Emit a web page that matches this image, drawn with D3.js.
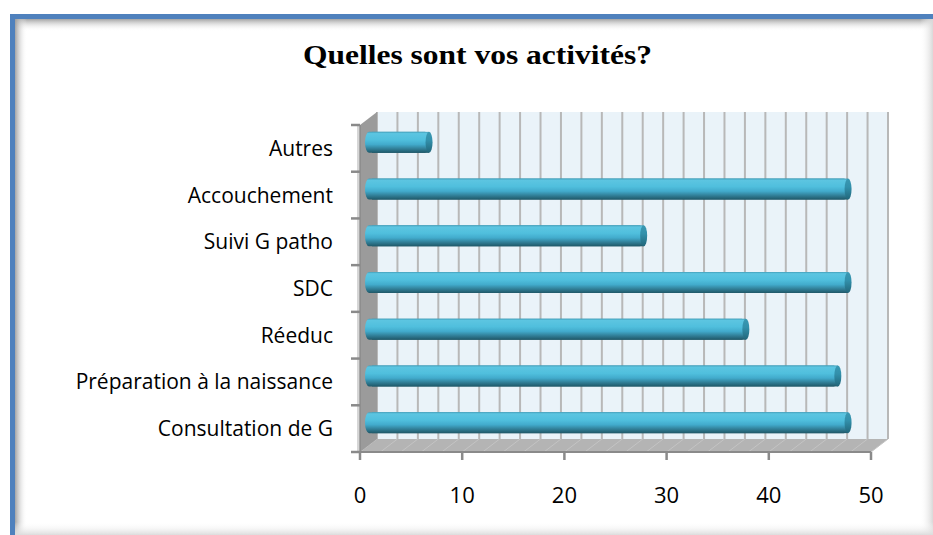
<!DOCTYPE html>
<html><head><meta charset="utf-8">
<script src="https://cdn.jsdelivr.net/npm/d3@7"></script>
<style>html,body{margin:0;padding:0;background:#fff;}svg{display:block;}</style>
</head><body>
<svg id="c" width="933" height="535"></svg>
<script>
const title = "Quelles sont vos activités?";
const categories = ["Autres","Accouchement","Suivi G patho","SDC","Réeduc","Préparation à la naissance","Consultation de G"];
const values = [7,48,28,48,38,47,48];
const xTicks = [0,10,20,30,40,50];

(function(){
const svg = d3.select("#c");
const W = 933, H = 535;
const defs = svg.append("defs");

function lg(id, x1,y1,x2,y2, stops){
  const g = defs.append("linearGradient").attr("id",id).attr("x1",x1).attr("y1",y1).attr("x2",x2).attr("y2",y2);
  stops.forEach(s=>g.append("stop").attr("offset",s[0]).attr("stop-color",s[1]).attr("stop-opacity",s[2]===undefined?1:s[2]));
}
lg("shTop",0,0,0,1,[[0,"#9a9a9a",0.9],[1,"#ffffff",0]]);
lg("shLeft",0,0,1,0,[[0,"#9a9a9a",0.9],[1,"#ffffff",0]]);
lg("shRight",0,0,1,0,[[0,"#ffffff",0],[1,"#d8d8d8",1]]);
lg("shBot",0,0,0,1,[[0,"#ffffff",0],[1,"#dcdcdc",1]]);
lg("cyl",0,0,0,1,[[0,"#449fba"],[0.08,"#5cc5e1"],[0.38,"#50bfdd"],[0.6,"#42abcc"],[0.82,"#307c94"],[1,"#1f5868"]]);
lg("cap",0,0,0,1,[[0,"#3a98b2"],[0.4,"#3290ab"],[1,"#21667a"]]);

// frame
svg.append("rect").attr("x",15).attr("y",19).attr("width",W-15).attr("height",12).attr("fill","url(#shTop)");
svg.append("rect").attr("x",15).attr("y",19).attr("width",12).attr("height",H-19).attr("fill","url(#shLeft)");
svg.append("rect").attr("x",920).attr("y",19).attr("width",13).attr("height",H-19).attr("fill","url(#shRight)");
svg.append("rect").attr("x",15).attr("y",522).attr("width",W-15).attr("height",13).attr("fill","url(#shBot)");
svg.append("rect").attr("x",10).attr("y",14).attr("width",W-10).attr("height",5).attr("fill","#4f81bd");
svg.append("rect").attr("x",10).attr("y",14).attr("width",5).attr("height",H-14).attr("fill","#4f81bd");

// title
svg.append("text").attr("x",477.5).attr("y",64).attr("text-anchor","middle")
  .attr("font-family","'Liberation Serif','DejaVu Serif',serif").attr("font-weight","bold")
  .attr("font-size",28).attr("textLength",349).attr("lengthAdjust","spacingAndGlyphs")
  .attr("fill","#000").text(title);

// scales
const x = d3.scaleLinear().domain([0,50]).range([360,871]);
const y = d3.scaleBand().domain(categories).range([125,452]);
const dx = 17, dy = -13;
const y0 = y.range()[0], y1 = y.range()[1];

// back wall
svg.append("rect").attr("x",x(0)+dx).attr("y",y0+dy).attr("width",x(50)-x(0)).attr("height",y1-y0)
  .attr("fill","#eaf3f9");
const grid = d3.range(0,51,2);
svg.append("g").selectAll("line").data(grid).join("line")
  .attr("x1",d=>x(d)+dx).attr("x2",d=>x(d)+dx).attr("y1",y0+dy).attr("y2",y1+dy)
  .attr("stroke","#b8b8b8").attr("stroke-width",2);
// floor
svg.append("path").attr("d",`M${x(0)},${y1}L${x(50)},${y1}L${x(50)+dx},${y1+dy}L${x(0)+dx},${y1+dy}Z`)
  .attr("fill","#b4b4b4");
svg.append("g").selectAll("line").data(grid).join("line")
  .attr("x1",d=>x(d)).attr("x2",d=>x(d)+dx).attr("y1",y1).attr("y2",y1+dy)
  .attr("stroke","#c4c4c4").attr("stroke-width",1);
// left wall
svg.append("path").attr("d",`M${x(0)},${y0}L${x(0)+dx},${y0+dy}L${x(0)+dx},${y1+dy}L${x(0)},${y1}Z`)
  .attr("fill","#9b9b9b");
svg.append("line").attr("x1",x(0)-2).attr("x2",x(0)-2).attr("y1",y0).attr("y2",y1).attr("stroke","#d6d6d6").attr("stroke-width",2);

// axes
svg.append("line").attr("x1",x(0)).attr("x2",x(0)).attr("y1",y0).attr("y2",y1).attr("stroke","#8a8a8a").attr("stroke-width",1.5);
svg.append("line").attr("x1",x(0)-8).attr("x2",x(50)).attr("y1",y1).attr("y2",y1).attr("stroke","#8a8a8a").attr("stroke-width",2);
const bounds = categories.map(c=>y(c)).concat([y1]);
svg.append("g").selectAll("line").data(bounds).join("line")
  .attr("x1",x(0)-9).attr("x2",x(0)).attr("y1",d=>d).attr("y2",d=>d)
  .attr("stroke","#8a8a8a").attr("stroke-width",2.5);
svg.append("g").selectAll("line").data(xTicks).join("line")
  .attr("x1",d=>x(d)).attr("x2",d=>x(d)).attr("y1",y1).attr("y2",y1+8)
  .attr("stroke","#8a8a8a").attr("stroke-width",2.5);
svg.append("g").selectAll("text").data(xTicks).join("text")
  .attr("x",d=>x(d)).attr("y",503).attr("text-anchor","middle")
  .attr("font-family","'Open Sans',sans-serif").attr("font-size",22).attr("fill","#000").text(d=>d);

// category labels
svg.append("g").selectAll("text").data(categories).join("text")
  .attr("x",333).attr("y",d=>y(d)+y.bandwidth()/2+7.5).attr("text-anchor","end")
  .attr("font-family","'Open Sans',sans-serif").attr("font-size",21).attr("fill","#000").text(d=>d);

// bars (cylinders)
const bh = 21, capR = 3.5;
const bars = svg.append("g").selectAll("g").data(categories.map((c,i)=>({c,v:values[i]}))).join("g");
bars.append("rect")
  .attr("x",x(0)+5).attr("y",d=>y(d.c)+y.bandwidth()/2-6-bh/2)
  .attr("width",d=>x(d.v)+1-capR-(x(0)+5)).attr("height",bh)
  .attr("rx",4).attr("ry",bh/2).attr("fill","url(#cyl)");
bars.append("rect")
  .attr("x",x(0)+12).attr("y",d=>y(d.c)+y.bandwidth()/2-6-bh/2)
  .attr("width",d=>x(d.v)+1-capR-(x(0)+12)).attr("height",bh).attr("fill","url(#cyl)");
bars.append("ellipse")
  .attr("cx",d=>x(d.v)+1-capR).attr("cy",d=>y(d.c)+y.bandwidth()/2-6)
  .attr("rx",capR).attr("ry",bh/2).attr("fill","url(#cap)");
})();
</script>
</body></html>
